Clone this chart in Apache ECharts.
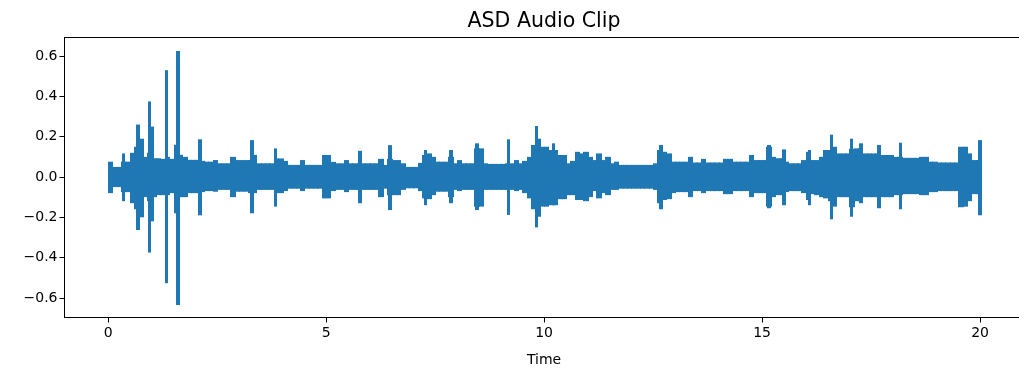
<!DOCTYPE html>
<html>
<head>
<meta charset="utf-8">
<script src="https://cdn.jsdelivr.net/npm/echarts@6/dist/echarts.min.js"></script>
<style>
  html, body { margin: 0; padding: 0; background: #ffffff; }
  #chart { width: 1019px; height: 371px; }
</style>
</head>
<body>
<div id="chart"></div>
<script>
// Waveform envelope, one bin per 0.1 s: highest and lowest sample in each bin.
const binSeconds = 0.1;
const envUpper = [
  0.076, 0.05, 0.05, 0.076, 0.076, 0.12, 0.15, 0.19, 0.1, 0.12,
  0.093, 0.093, 0.09, 0.1, 0.09, 0.16, 0.11, 0.1, 0.085, 0.085,
  0.085, 0.08, 0.076, 0.076, 0.084, 0.068, 0.068, 0.068, 0.1, 0.084,
  0.084, 0.084, 0.084, 0.11, 0.068, 0.068, 0.068, 0.068, 0.092, 0.092,
  0.08, 0.06, 0.06, 0.06, 0.084, 0.06, 0.06, 0.06, 0.06, 0.109,
  0.109, 0.075, 0.068, 0.068, 0.084, 0.068, 0.068, 0.068, 0.068, 0.068,
  0.068, 0.068, 0.09, 0.06, 0.09, 0.084, 0.084, 0.068, 0.05, 0.05,
  0.05, 0.07, 0.109, 0.117, 0.1, 0.076, 0.076, 0.076, 0.1, 0.068,
  0.084, 0.068, 0.068, 0.068, 0.142, 0.142, 0.068, 0.065, 0.065, 0.065,
  0.065, 0.068, 0.068, 0.084, 0.068, 0.08, 0.1, 0.159, 0.19, 0.15,
  0.15, 0.134, 0.134, 0.109, 0.109, 0.068, 0.08, 0.125, 0.117, 0.125,
  0.1, 0.084, 0.117, 0.084, 0.1, 0.068, 0.076, 0.06, 0.06, 0.06,
  0.06, 0.06, 0.06, 0.06, 0.06, 0.068, 0.134, 0.125, 0.117, 0.076,
  0.076, 0.076, 0.076, 0.1, 0.072, 0.072, 0.09, 0.072, 0.072, 0.072,
  0.072, 0.09, 0.09, 0.076, 0.076, 0.076, 0.076, 0.109, 0.084, 0.084,
  0.084, 0.15, 0.1, 0.093, 0.093, 0.076, 0.068, 0.068, 0.068, 0.084,
  0.125, 0.084, 0.084, 0.1, 0.134, 0.134, 0.15, 0.117, 0.117, 0.117,
  0.14, 0.142, 0.142, 0.117, 0.117, 0.117, 0.117, 0.109, 0.109, 0.109,
  0.1, 0.1, 0.095, 0.095, 0.095, 0.095, 0.1, 0.1, 0.076, 0.076,
  0.072, 0.072, 0.072, 0.072, 0.072, 0.15, 0.15, 0.117, 0.084, 0.084
];
const envLower = [
  -0.08, -0.05, -0.05, -0.075, -0.075, -0.13, -0.16, -0.2, -0.1, -0.12,
  -0.1, -0.09, -0.09, -0.09, -0.08, -0.18, -0.1, -0.1, -0.08, -0.08,
  -0.08, -0.075, -0.07, -0.07, -0.073, -0.064, -0.064, -0.064, -0.1, -0.073,
  -0.073, -0.073, -0.08, -0.08, -0.064, -0.064, -0.064, -0.064, -0.08, -0.08,
  -0.07, -0.058, -0.058, -0.058, -0.07, -0.058, -0.058, -0.058, -0.058, -0.106,
  -0.106, -0.07, -0.064, -0.064, -0.075, -0.064, -0.064, -0.064, -0.064, -0.064,
  -0.064, -0.064, -0.1, -0.058, -0.09, -0.09, -0.09, -0.064, -0.056, -0.056,
  -0.056, -0.07, -0.106, -0.11, -0.09, -0.073, -0.073, -0.073, -0.1, -0.064,
  -0.07, -0.064, -0.064, -0.064, -0.147, -0.147, -0.064, -0.064, -0.064, -0.064,
  -0.064, -0.064, -0.064, -0.07, -0.064, -0.08, -0.106, -0.16, -0.197, -0.147,
  -0.147, -0.14, -0.14, -0.11, -0.11, -0.09, -0.09, -0.114, -0.114, -0.12,
  -0.1, -0.07, -0.106, -0.08, -0.09, -0.064, -0.064, -0.058, -0.058, -0.058,
  -0.058, -0.058, -0.058, -0.058, -0.058, -0.064, -0.13, -0.114, -0.11, -0.08,
  -0.075, -0.075, -0.075, -0.1, -0.07, -0.07, -0.08, -0.07, -0.07, -0.07,
  -0.07, -0.085, -0.085, -0.07, -0.07, -0.07, -0.07, -0.1, -0.08, -0.08,
  -0.08, -0.147, -0.1, -0.09, -0.09, -0.075, -0.07, -0.07, -0.07, -0.08,
  -0.114, -0.085, -0.09, -0.1, -0.106, -0.12, -0.147, -0.1, -0.1, -0.1,
  -0.15, -0.12, -0.12, -0.1, -0.1, -0.1, -0.1, -0.1, -0.1, -0.1,
  -0.09, -0.09, -0.085, -0.085, -0.085, -0.085, -0.09, -0.09, -0.075, -0.075,
  -0.07, -0.07, -0.07, -0.07, -0.07, -0.15, -0.147, -0.12, -0.085, -0.085
];

// Short transients that stand out above the envelope.
const spikeTimes = [0.34, 0.67, 0.94, 0.99, 1.326, 1.59, 2.1, 3.29, 3.83, 5.77, 6.45, 7.27, 7.85, 8.45,
  9.17, 9.81, 10.2, 12.67, 15.15, 15.49, 16.08, 16.58, 17.04, 17.25, 17.67, 18.16, 19.98];
const spikeUpper = [0.117, 0.26, 0.375, 0.25, 0.53, 0.625, 0.187, 0.183, 0.142, 0.13, 0.158, 0.134, 0.134, 0.167,
  0.187, 0.253, 0.167, 0.159, 0.159, 0.137, 0.134, 0.21, 0.19, 0.167, 0.159, 0.17, 0.183];
const spikeLower = [-0.12, -0.263, -0.375, -0.22, -0.527, -0.635, -0.19, -0.18, -0.147, -0.13, -0.164, -0.14, -0.13, -0.164,
  -0.188, -0.25, -0.14, -0.16, -0.155, -0.14, -0.14, -0.21, -0.197, -0.13, -0.155, -0.16, -0.19];
const spikeSeconds = 0.06;

const xTicks = [0, 5, 10, 15, 20];
const yTicks = [-0.6, -0.4, -0.2, 0.0, 0.2, 0.4, 0.6];

const WAVE_COLOR = '#1f77b4';
const FONT = 'DejaVu Sans';

// [start, end, low, high] per envelope bin
const bandData = envUpper.map((hi, i) => [i * binSeconds, (i + 1) * binSeconds, envLower[i], hi]);
const spikeData = spikeTimes.map((t, i) => [t - spikeSeconds / 2, t + spikeSeconds / 2, spikeLower[i], spikeUpper[i]]);

// Each span is snapped to whole pixels and overlaps its neighbour by one pixel,
// so adjacent bins merge into one solid band without antialiasing seams.
function renderSpan(params, api) {
  const topLeft = api.coord([api.value(0), api.value(3)]);
  const bottomRight = api.coord([api.value(1), api.value(2)]);
  const x0 = Math.round(topLeft[0]);
  const x1 = Math.round(bottomRight[0]);
  return {
    type: 'rect',
    shape: {
      x: x0,
      y: topLeft[1],
      width: Math.max(x1 - x0, 2) + 1,
      height: bottomRight[1] - topLeft[1]
    },
    style: { fill: WAVE_COLOR, stroke: null }
  };
}

const axisLineStyle = { color: '#000', width: 1 };

const chart = echarts.init(document.getElementById('chart'), null, { renderer: 'canvas' });
chart.setOption({
  animation: false,
  backgroundColor: '#ffffff',
  title: {
    text: 'ASD Audio Clip',
    left: 539,
    top: 6,
    textAlign: 'center',
    textStyle: { fontFamily: FONT, fontSize: 20.5, fontWeight: 'normal', color: '#000' }
  },
  grid: {
    left: 64.5, top: 37.5, width: 959.2, height: 280,
    outerBoundsMode: 'none', containLabel: false, show: false
  },
  xAxis: [
    {
      type: 'value', min: -1, max: 21, position: 'bottom',
      name: 'Time', nameLocation: 'middle', nameGap: 36,
      nameTextStyle: { fontFamily: FONT, fontSize: 14, color: '#000' },
      axisLine: { show: true, onZero: false, lineStyle: axisLineStyle },
      axisTick: { show: true, customValues: xTicks, length: 5, lineStyle: axisLineStyle },
      axisLabel: { customValues: xTicks, fontFamily: FONT, fontSize: 14, color: '#000', margin: 9 },
      splitLine: { show: false }
    },
    {
      // top frame edge
      type: 'value', min: -1, max: 21, position: 'top',
      axisLine: { show: true, onZero: false, lineStyle: axisLineStyle },
      axisTick: { show: false }, axisLabel: { show: false }, splitLine: { show: false }
    }
  ],
  yAxis: {
    type: 'value', min: -0.697, max: 0.692,
    axisLine: { show: true, onZero: false, lineStyle: axisLineStyle },
    axisTick: { show: true, customValues: yTicks, length: 5, lineStyle: axisLineStyle },
    axisLabel: {
      customValues: yTicks, fontFamily: FONT, fontSize: 14, color: '#000', margin: 7,
      formatter: v => v.toFixed(1).replace('-', '\u2212')
    },
    splitLine: { show: false }
  },
  series: [
    {
      type: 'custom', name: 'envelope', renderItem: renderSpan,
      encode: { x: [0, 1], y: [2, 3] }, data: bandData, silent: true
    },
    {
      type: 'custom', name: 'transients', renderItem: renderSpan,
      encode: { x: [0, 1], y: [2, 3] }, data: spikeData, silent: true
    }
  ]
});
</script>
</body>
</html>
